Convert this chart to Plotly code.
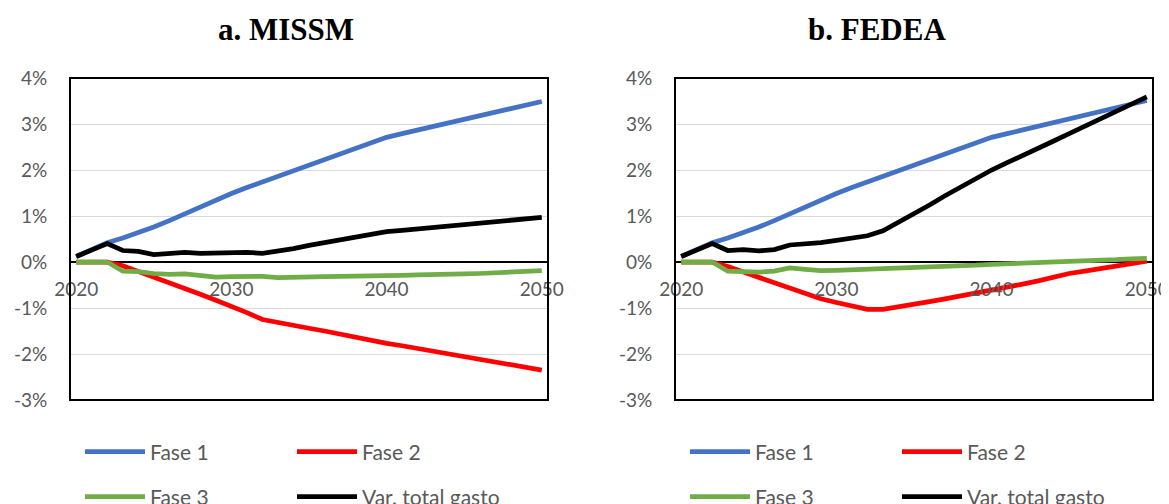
import plotly.graph_objects as go

years = list(range(2020, 2051))

# a. MISSM (percent)
missm_fase1 = [0.12, 0.27, 0.42, 0.52, 0.63, 0.76, 0.90, 1.05, 1.20, 1.35, 1.49, 1.62, 1.74, 1.86, 1.99, 2.11,
               2.23, 2.35, 2.47, 2.59, 2.71, 2.79, 2.87, 2.95, 3.03, 3.10, 3.18, 3.26, 3.34, 3.42, 3.49]
missm_fase2 = [0.0, 0.0, 0.0, -0.08, -0.20, -0.32, -0.44, -0.58, -0.70, -0.83, -0.96, -1.10, -1.25, -1.32, -1.38,
               -1.44, -1.50, -1.57, -1.63, -1.70, -1.77, -1.82, -1.88, -1.93, -1.99, -2.05, -2.11, -2.17, -2.23,
               -2.29, -2.35]
missm_fase3 = [0.0, 0.0, 0.0, -0.20, -0.21, -0.25, -0.27, -0.26, -0.30, -0.33, -0.32, -0.32, -0.31, -0.34, -0.34,
               -0.33, -0.32, -0.31, -0.31, -0.31, -0.30, -0.29, -0.28, -0.28, -0.27, -0.26, -0.25, -0.23, -0.22,
               -0.21, -0.19]
missm_total = [0.12, 0.26, 0.40, 0.25, 0.23, 0.16, 0.18, 0.21, 0.19, 0.20, 0.21, 0.21, 0.19, 0.23, 0.29, 0.36,
               0.42, 0.49, 0.55, 0.60, 0.66, 0.69, 0.72, 0.76, 0.79, 0.82, 0.85, 0.88, 0.91, 0.94, 0.97]

# b. FEDEA (percent)
fedea_fase1 = [0.12, 0.27, 0.42, 0.52, 0.63, 0.76, 0.90, 1.05, 1.20, 1.35, 1.49, 1.62, 1.74, 1.86, 1.99, 2.11,
               2.23, 2.35, 2.47, 2.59, 2.71, 2.79, 2.87, 2.95, 3.03, 3.10, 3.18, 3.26, 3.35, 3.43, 3.51]
fedea_fase2 = [0.0, 0.0, 0.0, -0.10, -0.22, -0.34, -0.46, -0.57, -0.68, -0.80, -0.88, -0.96, -1.03, -1.03, -0.98,
               -0.92, -0.86, -0.80, -0.74, -0.67, -0.62, -0.55, -0.48, -0.41, -0.33, -0.25, -0.20, -0.15, -0.09,
               -0.03, 0.02]
fedea_fase3 = [0.0, 0.0, 0.0, -0.20, -0.21, -0.22, -0.20, -0.13, -0.16, -0.19, -0.18, -0.17, -0.16, -0.15, -0.14,
               -0.13, -0.12, -0.10, -0.08, -0.07, -0.05, -0.04, -0.02, -0.01, 0.0, 0.02, 0.03, 0.04, 0.05, 0.07, 0.08]
fedea_total = [0.12, 0.27, 0.40, 0.25, 0.27, 0.24, 0.27, 0.37, 0.39, 0.42, 0.47, 0.52, 0.57, 0.68, 0.86, 1.04,
               1.24, 1.44, 1.63, 1.83, 2.00, 2.16, 2.31, 2.47, 2.63, 2.79, 2.95, 3.11, 3.27, 3.43, 3.59]

series_names = ["Fase 1", "Fase 2", "Fase 3", "Var. total gasto"]
series_colors = ["#4472C4", "#FF0000", "#70AD47", "#000000"]
panel_titles = ["a. MISSM", "b. FEDEA"]
x_tick_vals = [2020, 2030, 2040, 2050]
x_tick_text = ["2020", "2030", "2040", "2050"]
y_tick_vals = [-3, -2, -1, 0, 1, 2, 3, 4]
y_tick_text = ["-3%", "-2%", "-1%", "0%", "1%", "2%", "3%", "4%"]

panels = [
    [missm_fase1, missm_fase2, missm_fase3, missm_total],
    [fedea_fase1, fedea_fase2, fedea_fase3, fedea_total],
]

FONT = "Lato"
TXT = "#595959"

fig = go.Figure()
legend_ids = [["legend", "legend", "legend2", "legend2"], ["legend3", "legend3", "legend4", "legend4"]]
for p, data in enumerate(panels):
    xa = "x" if p == 0 else "x2"
    ya = "y" if p == 0 else "y2"
    for s, vals in enumerate(data):
        fig.add_trace(go.Scatter(
            x=years, y=vals, mode="lines", name=series_names[s],
            line=dict(color=series_colors[s], width=4.75),
            xaxis=xa, yaxis=ya, legend=legend_ids[p][s], showlegend=True,
            hoverinfo="skip",
        ))

# page body has an 8px margin: figure pixel = reference pixel - 8
OFF = 8
W, H = 1169 - OFF, 504 - OFF
ml, mr, mt, mb = 70 - OFF, W - (1153 - OFF), 78 - OFF, H - (400 - OFF)
pw = W - ml - mr
ph = H - mt - mb

def px_x(px):
    return (px - OFF - ml) / pw

def px_y(py):
    return (H - mb - (py - OFF)) / ph

dom1 = [0, px_x(548)]
dom2 = [px_x(675), 1]

common_x = dict(range=[2019.6, 2050.4], tickvals=x_tick_vals, ticktext=x_tick_text, showgrid=False,
                zeroline=False, showline=False, ticks="outside", ticklen=10, tickcolor="rgba(0,0,0,0)",
                anchor="free", position=3 / 7,
                tickfont=dict(family=FONT, size=19, color=TXT))
common_y = dict(range=[-3, 4], tickvals=y_tick_vals, ticktext=y_tick_text, showgrid=True, gridcolor="#D9D9D9",
                gridwidth=1, zeroline=True, zerolinecolor="#000000", zerolinewidth=1.5, showline=False,
                ticks="outside", ticklen=18, tickcolor="rgba(0,0,0,0)",
                tickfont=dict(family=FONT, size=19, color=TXT))

fig.update_layout(
    width=W, height=H,
    margin=dict(l=ml, r=mr, t=mt, b=mb, autoexpand=False),
    paper_bgcolor="white", plot_bgcolor="white",
    xaxis=dict(domain=dom1, **common_x),
    xaxis2=dict(domain=dom2, **common_x),
    yaxis=dict(domain=[0, 1], anchor="x", **common_y),
    yaxis2=dict(domain=[0, 1], anchor="x2", **common_y),
    font=dict(family=FONT, color=TXT),
)

leg_common = dict(orientation="h", yanchor="middle", xanchor="left", bgcolor="rgba(0,0,0,0)",
                  font=dict(family=FONT, size=21, color=TXT), itemwidth=60, entrywidthmode="pixels",
                  entrywidth=137, itemclick=False, itemdoubleclick=False)
fig.update_layout(
    legend=dict(x=px_x(80), y=px_y(452), **leg_common),
    legend2=dict(x=px_x(80), y=px_y(497), **leg_common),
    legend3=dict(x=px_x(685), y=px_y(452), **leg_common),
    legend4=dict(x=px_x(685), y=px_y(497), **leg_common),
)

for xa, ya in [("x", "y"), ("x2", "y2")]:
    fig.add_shape(type="rect", xref=f"{xa} domain", yref=f"{ya} domain", x0=0, x1=1, y0=0, y1=1,
                  line=dict(color="#000000", width=2), layer="above")

for title, cx in zip(panel_titles, [286, 877]):
    fig.add_annotation(text="<b>" + title + "</b>", xref="paper", yref="paper", x=px_x(cx), y=px_y(29),
                       showarrow=False, font=dict(family="Liberation Serif", size=31, color="#000000"),
                       xanchor="center", yanchor="middle")

fig.write_html("out.html")
